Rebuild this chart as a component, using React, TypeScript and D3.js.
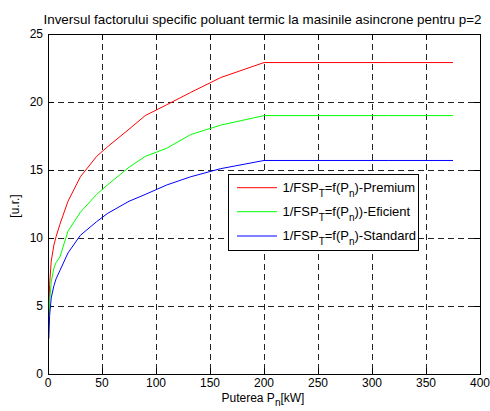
import React from "react";
import * as d3 from "d3";

const powers = [0.75, 1.5, 3, 5.5, 7.5, 11, 18.5, 30, 45, 55, 75, 90, 110, 132, 160, 200, 250, 315, 375];
const premium = [4.5, 6.6, 8.3, 9.5, 10.1, 11.0, 12.7, 14.5, 16.0, 16.7, 18.0, 19.0, 19.8, 20.7, 21.8, 22.9, 22.9, 22.9, 22.9];
const eficient = [3.5, 5.3, 6.8, 7.8, 8.2, 8.6, 10.5, 11.9, 13.2, 13.9, 15.2, 16.0, 16.6, 17.6, 18.3, 19.0, 19.0, 19.0, 19.0];
const standard = [2.6, 4.3, 5.6, 6.5, 7.0, 7.6, 8.9, 10.2, 11.2, 11.8, 12.7, 13.2, 13.9, 14.5, 15.1, 15.7, 15.7, 15.7, 15.7];
const xTicks = [0, 50, 100, 150, 200, 250, 300, 350, 400];
const yTicks = [0, 5, 10, 15, 20, 25];
const series = [
  { name: ")-Premium", values: premium, color: "#ff0000" },
  { name: "))-Eficient", values: eficient, color: "#00ff00" },
  { name: ")-Standard", values: standard, color: "#0000ff" },
];
const title = "Inversul factorului specific poluant termic la masinile asincrone pentru p=2";

export default function App() {
  const W = 490, H = 411;
  const L = 48, R = 480, T = 34, B = 374;
  const x = d3.scaleLinear().domain([0, 400]).range([L, R]);
  const y = d3.scaleLinear().domain([0, 25]).range([B, T]);
  const line = d3.line<number>().x((_, i) => x(powers[i])).y((v) => y(v));
  const font = "Liberation Sans, Arial, sans-serif";
  const tl = 6;
  const legX = 228.5, legY = 174.5, legW = 189.5, legH = 75.5;
  const rows = [187.7, 211.7, 236];
  return (
    <svg width={W} height={H} style={{ position: "absolute", left: 0, top: 0, background: "#fff" }} fontFamily={font}>
      <rect x={0} y={0} width={W} height={H} fill="#fff" />
      {xTicks.slice(1, -1).map((t) => (
        <line key={"gx" + t} x1={x(t)} x2={x(t)} y1={T} y2={B} stroke="#222" strokeDasharray="6,4" strokeWidth={1} shapeRendering="crispEdges" />
      ))}
      {yTicks.slice(1, -1).map((t) => (
        <line key={"gy" + t} x1={L} x2={R} y1={y(t)} y2={y(t)} stroke="#222" strokeDasharray="6,4" strokeWidth={1} shapeRendering="crispEdges" />
      ))}
      {xTicks.map((t) => (
        <g key={"tx" + t}>
          <line x1={x(t)} x2={x(t)} y1={B} y2={B - tl} stroke="#000" shapeRendering="crispEdges" />
          <line x1={x(t)} x2={x(t)} y1={T} y2={T + tl} stroke="#000" shapeRendering="crispEdges" />
          <text x={x(t)} y={387} fontSize={12} textAnchor="middle">{t}</text>
        </g>
      ))}
      {yTicks.map((t) => (
        <g key={"ty" + t}>
          <line x1={L} x2={L + tl} y1={y(t)} y2={y(t)} stroke="#000" shapeRendering="crispEdges" />
          <line x1={R} x2={R - tl} y1={y(t)} y2={y(t)} stroke="#000" shapeRendering="crispEdges" />
          <text x={43} y={y(t) + 4.3} fontSize={12} textAnchor="end">{t}</text>
        </g>
      ))}
      {series.map((s) => (
        <path key={s.name} d={line(s.values) || ""} fill="none" stroke={s.color} strokeWidth={1} />
      ))}
      <rect x={L} y={T} width={R - L} height={B - T} fill="none" stroke="#000" strokeWidth={1} shapeRendering="crispEdges" />
      <rect x={legX} y={legY} width={legW} height={legH} fill="#fff" stroke="#000" strokeWidth={1} shapeRendering="crispEdges" />
      {series.map((s, i) => (
        <g key={"lg" + i}>
          <line x1={237} x2={277} y1={rows[i]} y2={rows[i]} stroke={s.color} strokeWidth={1} />
          <text x={282.5} y={rows[i] + 4.2} fontSize={13}>
            1/FSP<tspan dy={5} fontSize={10}>T</tspan><tspan dy={-5}>=f(P</tspan><tspan dy={5} fontSize={10}>n</tspan><tspan dy={-5}>{s.name}</tspan>
          </text>
        </g>
      ))}
      <text x={262.5} y={23.5} fontSize={13.4} textAnchor="middle">{title}</text>
      <text x={221.5} y={402} fontSize={12}>
        Puterea P<tspan dy={4} fontSize={10}>n</tspan><tspan dy={-4}>[kW]</tspan>
      </text>
      <text transform="translate(19,206) rotate(-90)" fontSize={12} textAnchor="middle">[u.r.]</text>
    </svg>
  );
}
